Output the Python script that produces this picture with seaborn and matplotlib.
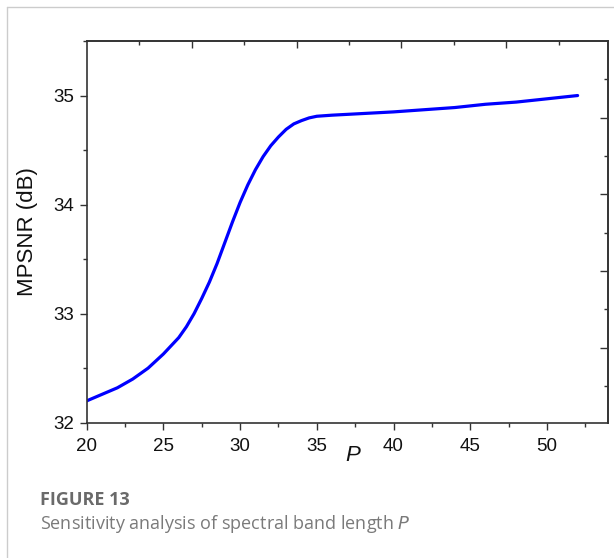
import matplotlib
matplotlib.use('Agg')
import matplotlib.pyplot as plt
import matplotlib.ticker as ticker
from matplotlib.lines import Line2D
import seaborn as sns
import pandas as pd

# Valores
p_vals = [20, 21, 22, 23, 24, 25, 26, 26.5, 27, 27.5, 28, 28.5, 29, 29.5, 30, 30.5, 31, 31.5,
          32, 32.5, 33, 33.5, 34, 34.5, 35, 36, 38, 40, 42, 44, 46, 48, 50, 52]
mpsnr = [32.20, 32.26, 32.32, 32.40, 32.50, 32.63, 32.78, 32.88, 33.00, 33.14, 33.29, 33.46,
         33.65, 33.84, 34.02, 34.18, 34.32, 34.44, 34.54, 34.62, 34.69, 34.74, 34.77, 34.795,
         34.81, 34.82, 34.835, 34.85, 34.87, 34.89, 34.92, 34.94, 34.97, 35.00]
x_ticks = [20, 25, 30, 35, 40, 45, 50]
y_ticks = [32, 33, 34, 35]

df = pd.DataFrame({'P': p_vals, 'MPSNR': mpsnr})

sns.set_style('white')
plt.rcParams['font.family'] = ['Liberation Sans', 'DejaVu Sans']

fig = plt.figure(figsize=(6.14, 5.58), dpi=100)
ax = fig.add_axes([0.1412, 0.2425, 0.8495, 0.6840])

sns.lineplot(data=df, x='P', y='MPSNR', color='#0000ff', linewidth=2.3, ax=ax)

ax.set_xlim(20, 54)
ax.set_ylim(32, 35.5)
ax.set_xticks(x_ticks)
ax.set_yticks(y_ticks)
ax.xaxis.set_minor_locator(ticker.MultipleLocator(2.5))
ax.yaxis.set_minor_locator(ticker.MultipleLocator(0.5))

edge = '#333333'
for s in ax.spines.values():
    s.set_color(edge)
    s.set_linewidth(1.2)
    s.set_visible(True)

ax.tick_params(axis='both', which='major', direction='out', length=5, width=1,
               color=edge, labelsize=13.5, labelcolor='#111111', pad=4)
ax.tick_params(axis='x', which='major', pad=6)
ax.tick_params(axis='both', which='minor', direction='out', length=3, width=1, color=edge)
ax.tick_params(bottom=True, left=True, which='both')

# eixos secundários (só marcas, como no original)
top = ax.secondary_xaxis('top')
top.set_xticks([20 + 6.84 * k for k in range(1, 5)])
top.xaxis.set_minor_locator(ticker.FixedLocator([20 + 3.42 + 6.84 * k for k in range(5)]))
top.tick_params(which='major', direction='in', length=5, width=1, color=edge, labeltop=False)
top.tick_params(which='minor', direction='in', length=3, width=1, color=edge)
top.spines['top'].set_color(edge)
top.spines['top'].set_linewidth(1.2)

right = ax.secondary_yaxis('right')
right.set_yticks([35.5 - 0.7034 * k for k in range(1, 5)])
right.yaxis.set_minor_locator(ticker.FixedLocator([35.5 - 0.3517 - 0.7034 * k for k in range(5)]))
right.tick_params(which='major', direction='in', length=6, width=1, color=edge, labelright=False)
right.tick_params(which='minor', direction='in', length=3, width=1, color=edge)
right.spines['right'].set_color(edge)
right.spines['right'].set_linewidth(1.2)

ax.set_xlabel('P', fontsize=16, fontstyle='italic', color='#111111')
ax.xaxis.set_label_coords(0.51, -0.058)
ax.set_ylabel('MPSNR (dB)', fontsize=16, color='#111111')
ax.yaxis.set_label_coords(-0.093, 0.5)

# moldura clara e legenda da figura
fig.add_artist(Line2D([0.0114, 1.0], [0.9875, 0.9875], transform=fig.transFigure,
                      color='#cccccc', linewidth=1))
fig.add_artist(Line2D([0.0114, 0.0114], [0.0, 0.9875], transform=fig.transFigure,
                      color='#cccccc', linewidth=1))
fig.text(0.065, 0.104, 'FIGURE 13', fontsize=13, fontweight='bold', color='#6a6a6a',
         family=['Open Sans', 'DejaVu Sans'], va='center', ha='left')
fig.text(0.065, 0.061, 'Sensitivity analysis of spectral band length $\\mathit{P}$', fontsize=13,
         color='#7a7a7a', family=['Open Sans', 'DejaVu Sans'], va='center', ha='left')

fig.savefig('out.png', dpi=100)
plt.close(fig)
